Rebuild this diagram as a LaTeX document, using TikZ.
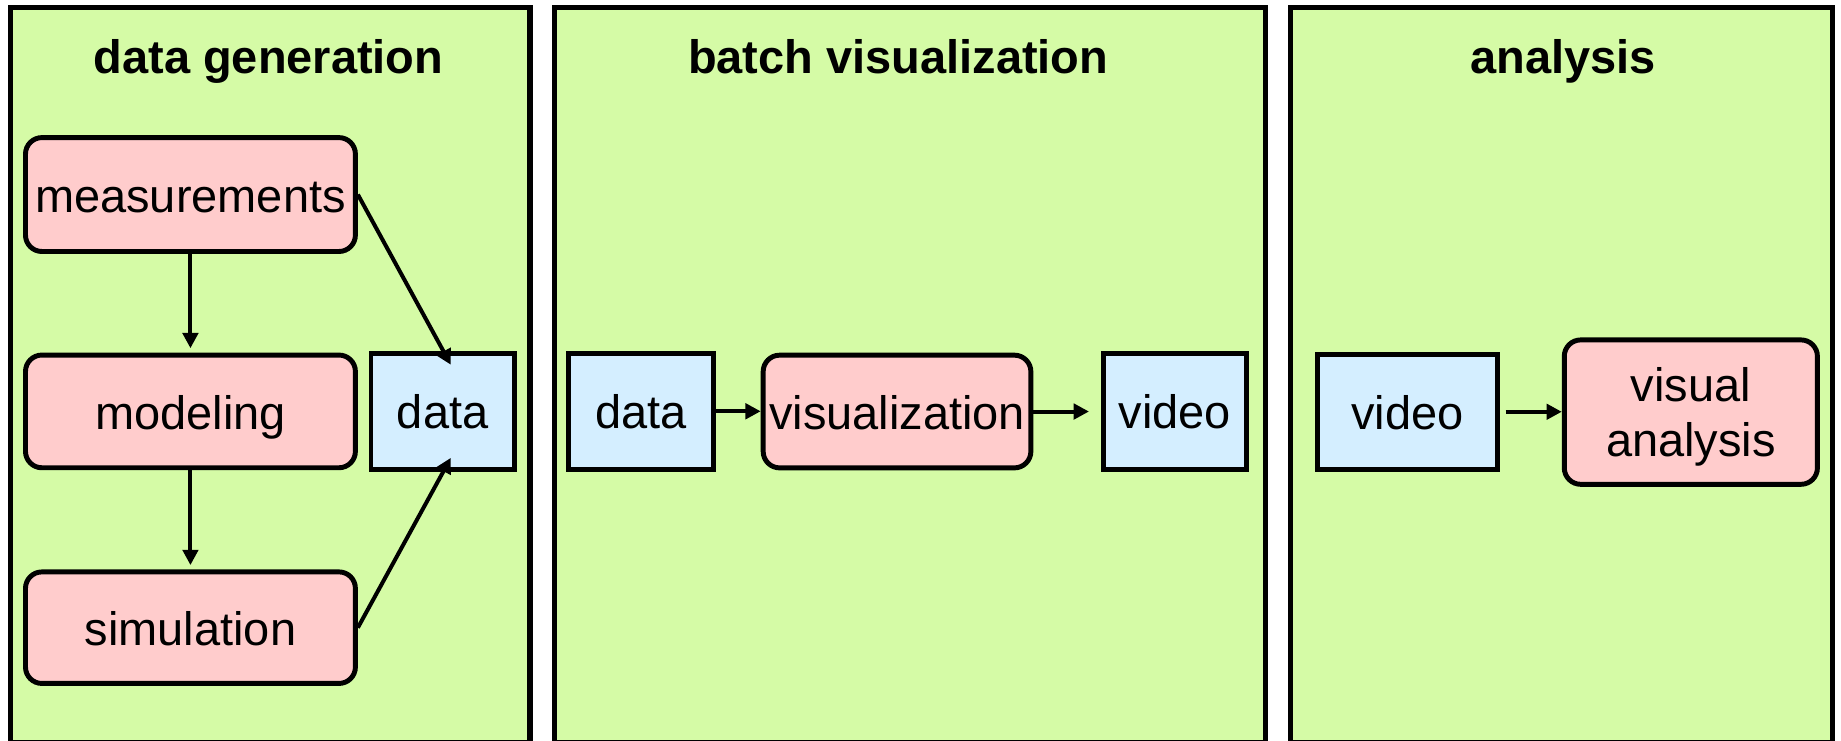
\documentclass[tikz,border=0pt]{standalone}
\usepackage{fontspec}
\setmainfont{Liberation Sans}
\usetikzlibrary{arrows.meta}
\definecolor{panelgreen}{HTML}{D5FBA6}
\definecolor{procpink}{HTML}{FFCCCC}
\definecolor{datablue}{HTML}{D4EEFF}
\begin{document}
\begin{tikzpicture}[x=1pt,y=-1pt,
  panel/.style={draw=black, line width=4.3pt, fill=panelgreen},
  ttl/.style={font=\bfseries\fontsize{40}{40}\selectfont, inner sep=0pt, anchor=base},
  txt/.style={font=\fontsize{40}{40}\selectfont, inner sep=0pt},
  boxtxt/.style={txt, text height=34pt, text depth=4pt},
  proc/.style={draw=black, line width=4.2pt, fill=procpink, rounded corners=14pt, boxtxt},
  datab/.style={draw=black, line width=4.2pt, fill=datablue, boxtxt},
  arr/.style={-{Triangle[length=13pt,width=13pt]}, line width=3.4pt}]
\useasboundingbox (0,0) rectangle (1568,631);
\clip (0,0) rectangle (1568,631);
\fill[white] (0,0) rectangle (1568,631);
% panels
\draw[panel] (9,6.4) rectangle (451.4,632.5);
\draw[panel] (472.3,6.4) rectangle (1078,632.5);
\draw[panel] (1099,6.4) rectangle (1560.5,632.5);
% titles
\node[ttl] (t1) at (228.7,63) {data generation};
\node[ttl] (t2) at (765,63) {batch visualization};
\node[ttl] (t3) at (1331.5,63) {analysis};
% panel 1
\node[proc, minimum width=281pt, minimum height=97pt] (meas) at (162.2,165.7) {measurements};
\node[proc, minimum width=281pt, minimum height=96pt] (model) at (162.2,350.4) {modeling};
\node[proc, minimum width=281pt, minimum height=95pt] (sim) at (162.2,534.6) {simulation};
\node[datab, minimum width=122pt, minimum height=99pt] (data1) at (377,350.3) {data};
\draw[arr, shorten >=3.7pt] (meas.south) -- (model.north);
\draw[arr, shorten >=3.7pt] (model.south) -- (sim.north);
\draw[arr] (meas.east) -- ([xshift=7pt,yshift=-12pt]data1.north);
\draw[arr] (sim.east) -- ([xshift=7pt,yshift=12pt]data1.south);
% panel 2
\node[datab, minimum width=123pt, minimum height=99pt] (data2) at (545.8,350.3) {data};
\node[proc, minimum width=228pt, minimum height=96pt] (viz) at (764,350.5) {visualization};
\node[datab, minimum width=122pt, minimum height=99pt] (video2) at (1000.6,350.3) {video};
\draw[arr] (data2.east) -- (viz.west |- data2.east);
\draw[arr] (viz.east) -- ([xshift=-10pt]video2.west |- viz.east);
% panel 3
\node[datab, minimum width=152.7pt, minimum height=98pt] (video3) at (1198.8,350.7) {video};
\node[draw=black, line width=4.2pt, fill=procpink, rounded corners=14pt, minimum width=215.6pt, minimum height=123pt] (va) at (1440.1,351) {};
\node[txt, anchor=base] (va1) at ([yshift=9pt]va.center) {visual};
\node[txt, anchor=base] (va2) at ([yshift=-38pt]va.center) {analysis};
\draw[arr] ([xshift=5pt]video3.east) -- (va.west |- video3.east);
\end{tikzpicture}
\end{document}
